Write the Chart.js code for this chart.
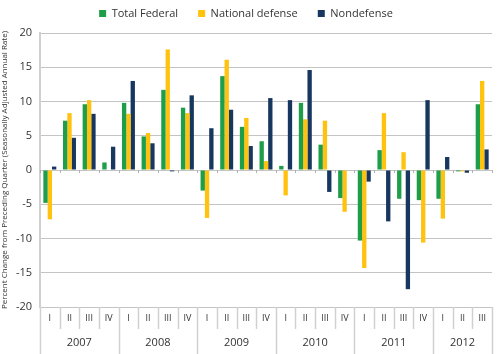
<!DOCTYPE html>
<html>
<head>
<meta charset="utf-8">
<script src="https://cdn.jsdelivr.net/npm/chart.js"></script>
<style>
  html, body { margin: 0; padding: 0; background: #fff; }
  #wrap { width: 500px; height: 354px; }
</style>
</head>
<body>
<div id="wrap"><canvas id="chart"></canvas></div>
<script>
// quarters and the year each group belongs to
const quarters = ['I','II','III','IV','I','II','III','IV','I','II','III','IV','I','II','III','IV','I','II','III','IV','I','II','III'];
const years = ['2007','2008','2009','2010','2011','2012'];
const quartersPerYear = [4, 4, 4, 4, 4, 3];

// percent change, seasonally adjusted annual rate
const totalFederal = [-4.8, 7.2, 9.6, 1.1, 9.8, 4.9, 11.7, 9.1, -3.0, 13.7, 6.3, 4.2, 0.6, 9.8, 3.7, -4.1, -10.3, 2.9, -4.2, -4.4, -4.2, -0.2, 9.6];
const nationalDefense = [-7.2, 8.3, 10.2, 0, 8.2, 5.4, 17.6, 8.3, -7.0, 16.1, 7.6, 1.3, -3.7, 7.4, 7.2, -6.1, -14.3, 8.3, 2.6, -10.6, -7.1, -0.2, 13.0];
const nondefense = [0.5, 4.7, 8.2, 3.4, 13.0, 3.9, -0.2, 10.9, 6.1, 8.8, 3.5, 10.5, 10.2, 14.6, -3.2, 0, -1.7, -7.5, -17.4, 10.2, 1.9, -0.4, 3.0];

const yTicks = [-20, -15, -10, -5, 0, 5, 10, 15, 20];

const FONT = "'Open Sans', 'Noto Sans', sans-serif";
const lineGray = '#c4c4c4';

// keep the legend's wide item spacing but fix the space it takes above the plot
const legendHeight = {
  id: 'legendHeight',
  beforeLayout(chart) {
    const lg = chart.legend;
    if (lg && !lg._fixed) {
      const fit = lg.fit;
      lg.fit = function () { fit.call(this); this.height = 45; };
      lg._fixed = true;
    }
  }
};

// year labels and separators under the quarter labels
const yearAxis = {
  id: 'yearAxis',
  afterDraw(chart) {
    const ctx = chart.ctx;
    const x = chart.scales.x;
    const y = chart.scales.y;
    const area = chart.chartArea;
    const step = x.getPixelForValue(1) - x.getPixelForValue(0);
    const zero = y.getPixelForValue(0);
    ctx.save();
    let start = 0;
    const yearStarts = [];
    quartersPerYear.forEach(n => { yearStarts.push(start); start += n; });
    for (let i = 0; i <= quarters.length; i++) {
      const px = Math.round(x.getPixelForValue(i) - step / 2) + 0.5;
      const isYear = yearStarts.includes(i) || i === quarters.length;
      ctx.strokeStyle = '#d0d0d0';
      ctx.lineWidth = 1.5;
      ctx.beginPath();
      ctx.moveTo(px, area.bottom);
      ctx.lineTo(px, isYear ? chart.height : area.bottom + 22);
      ctx.stroke();
      // small ticks on the zero line
      ctx.strokeStyle = '#b0b0b0';
      ctx.lineWidth = 1;
      ctx.beginPath();
      ctx.moveTo(px, zero);
      ctx.lineTo(px, zero + 3);
      ctx.stroke();
    }
    ctx.fillStyle = '#333';
    ctx.font = '11px ' + FONT;
    ctx.textAlign = 'center';
    ctx.textBaseline = 'middle';
    years.forEach((yr, k) => {
      const a = yearStarts[k];
      const b = a + quartersPerYear[k] - 1;
      const cx = (x.getPixelForValue(a) + x.getPixelForValue(b)) / 2;
      ctx.fillText(yr, cx, area.bottom + 36);
    });
    ctx.restore();
  }
};

new Chart(document.getElementById('chart'), {
  type: 'bar',
  data: {
    labels: quarters,
    datasets: [
      { label: 'Total Federal', data: totalFederal, backgroundColor: '#1e9e48' },
      { label: 'National defense', data: nationalDefense, backgroundColor: '#ffc20e' },
      { label: 'Nondefense', data: nondefense, backgroundColor: '#17375e' }
    ]
  },
  options: {
    responsive: true,
    maintainAspectRatio: false,
    animation: false,
    layout: { padding: { left: 0, right: 8, top: -12, bottom: 0 } },
    datasets: { bar: { categoryPercentage: 0.66, barPercentage: 1.0 } },
    plugins: {
      legend: {
        position: 'top',
        labels: {
          boxWidth: 7, boxHeight: 7, padding: 20,
          color: '#333',
          font: { family: FONT, size: 11 }
        }
      },
      tooltip: { enabled: false }
    },
    scales: {
      x: {
        grid: { display: false, drawTicks: false },
        border: { display: false },
        ticks: { color: '#333', padding: 6, font: { family: FONT, size: 9 }, maxRotation: 0, autoSkip: false },
        afterFit(s) { s.height = 47; }
      },
      y: {
        min: -20, max: 20,
        afterBuildTicks(s) { s.ticks = yTicks.map(v => ({ value: v })); },
        grid: { color: lineGray, lineWidth: 1, drawTicks: false },
        border: { display: true, color: '#d0d0d0', width: 2 },
        ticks: { color: '#333', padding: 8, font: { family: FONT, size: 11 } },
        title: {
          display: true,
          text: 'Percent Change from Preceding Quarter (Seasonally Adjusted Annual Rate)',
          color: '#333',
          font: { family: FONT, size: 8 },
          padding: { top: 0, bottom: 0 }
        },
        afterFit(s) { s.width = 40; }
      }
    }
  },
  plugins: [legendHeight, yearAxis]
});
</script>
</body>
</html>
